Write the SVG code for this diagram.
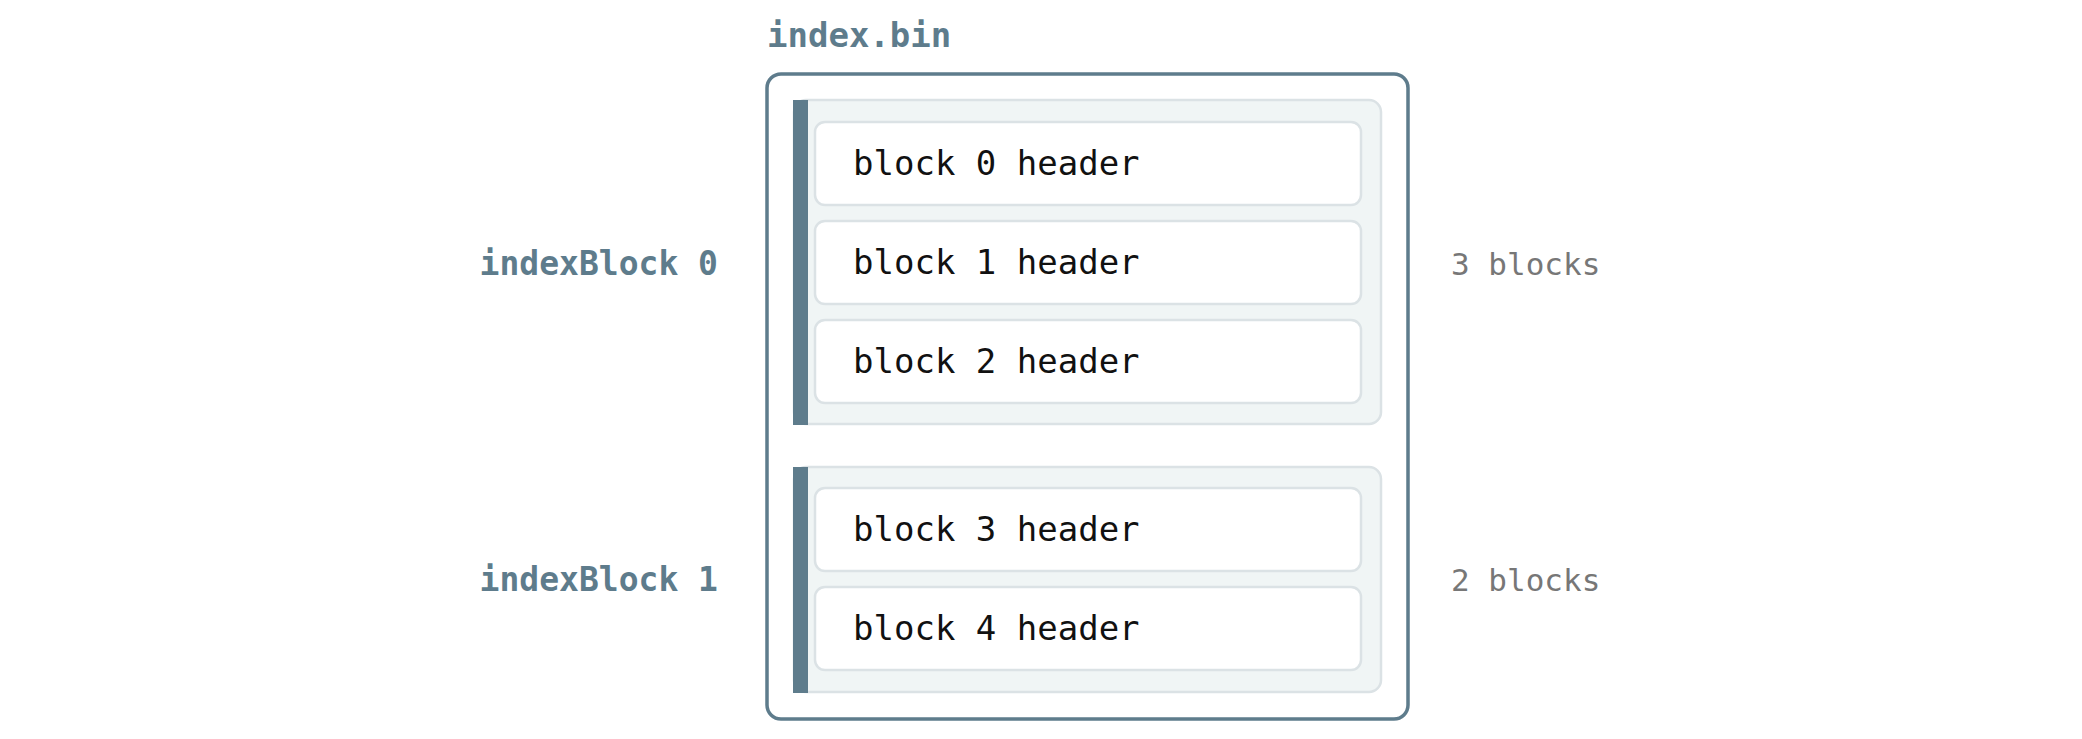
<svg xmlns="http://www.w3.org/2000/svg" width="2082" height="739" viewBox="0 0 2082 739">
<style>
.title{font-family:"DejaVu Sans Mono",monospace;font-weight:bold;font-size:34px;fill:#5e7c8c}
.lbl{font-family:"DejaVu Sans Mono",monospace;font-weight:bold;font-size:33px;fill:#5e7c8c}
.cnt{font-family:"DejaVu Sans Mono",monospace;font-size:31px;fill:#777777}
.hdr{font-family:"DejaVu Sans Mono",monospace;font-size:34px;fill:#111111}
.outer{fill:#ffffff;stroke:#5e7c8c;stroke-width:3.5}
.panel{fill:#f0f5f5;stroke:#dbe2e5;stroke-width:2.5}
.bar{fill:#5e7c8c}
.box{fill:#ffffff;stroke:#dbe2e5;stroke-width:2.5}
</style>
<rect width="2082" height="739" fill="#ffffff"/>
<g id="file">
<text class="title" x="767" y="47">index.bin</text>
<rect class="outer" x="767" y="74" width="641" height="645" rx="14"/>
</g>
<g id="indexBlock0">
<rect class="panel" x="794" y="100" width="587" height="324" rx="12"/>
<rect class="bar" x="793" y="100" width="15" height="325"/>
<text class="lbl" x="718" y="275" text-anchor="end">indexBlock 0</text>
<text class="cnt" x="1451" y="275">3 blocks</text>
</g>
<g id="block0">
<rect class="box" x="815" y="122" width="546" height="83" rx="10"/>
<text class="hdr" x="853" y="175">block 0 header</text>
</g>
<g id="block1">
<rect class="box" x="815" y="221" width="546" height="83" rx="10"/>
<text class="hdr" x="853" y="274">block 1 header</text>
</g>
<g id="block2">
<rect class="box" x="815" y="320" width="546" height="83" rx="10"/>
<text class="hdr" x="853" y="373">block 2 header</text>
</g>
<g id="indexBlock1">
<rect class="panel" x="794" y="467" width="587" height="225" rx="12"/>
<rect class="bar" x="793" y="467" width="15" height="226"/>
<text class="lbl" x="718" y="591" text-anchor="end">indexBlock 1</text>
<text class="cnt" x="1451" y="591">2 blocks</text>
</g>
<g id="block3">
<rect class="box" x="815" y="488" width="546" height="83" rx="10"/>
<text class="hdr" x="853" y="541">block 3 header</text>
</g>
<g id="block4">
<rect class="box" x="815" y="587" width="546" height="83" rx="10"/>
<text class="hdr" x="853" y="640">block 4 header</text>
</g>
<g id="connectors"></g>
</svg>
